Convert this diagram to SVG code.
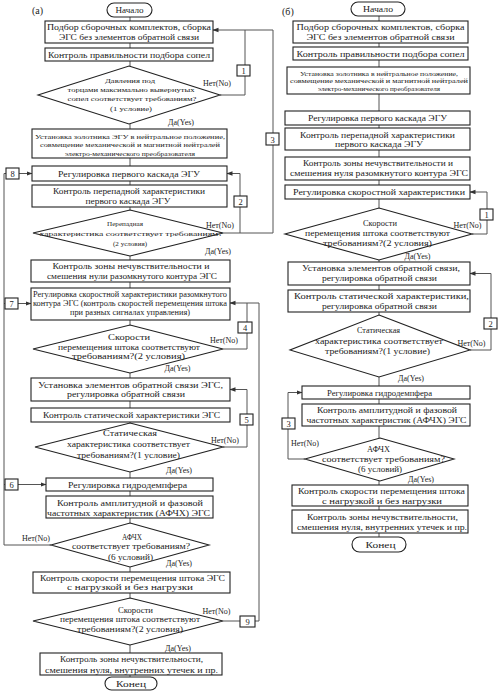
<svg xmlns="http://www.w3.org/2000/svg" width="501" height="700" viewBox="0 0 501 700">
<defs>
<marker id="ah" markerWidth="6" markerHeight="6" refX="5.5" refY="3" orient="auto" markerUnits="userSpaceOnUse">
<path d="M0,0.8 L6,3 L0,5.2 z" fill="#333"/>
</marker>
<style>
.b{fill:#fff;stroke:#222;stroke-width:1.1}
.c{fill:none;stroke:#555;stroke-width:1}
.a{fill:none;stroke:#555;stroke-width:1;marker-end:url(#ah)}
text{font-family:"Liberation Serif","Times New Roman",serif;fill:#222;text-anchor:middle;font-size:8.5px}
.s7{font-size:7px}
.s75{font-size:7.5px}
.s8{font-size:8px}
.s9{font-size:9px}
.s10{font-size:10px}
.lb{font-size:10px}
.st{text-anchor:start}
</style>
</defs>
<rect width="501" height="700" fill="#fff"/>

<g id="connectors">
<path class="c" d="M130,17V21M130,43V48M130,61V66M130,124V129M130,158V166M130,181V185M130,207V210M130,256V260M130,282V288M130,320V325M130,373V378M130,401V408M130,422V423M130,472V478M130,491V496M130,518V523M130,567V572M130,593V598M130,645V653M130,675V677"/>
<path class="c" d="M220,95H245V30"/>
<path class="a" d="M273,233V30H213"/>
<path class="c" d="M223,233H273"/>
<path class="a" d="M240,233V173.5H227"/>
<path class="a" d="M223,349H247V303H230"/>
<path class="c" d="M223,621H259V303H247"/>
<path class="a" d="M223,447H247V389.5H230"/>
<path class="a" d="M51,545H4V173.5H32"/>
<path class="a" d="M4,303.5H31"/>
<path class="a" d="M4,484.5H46"/>
<path class="c" d="M379,16V21M379,43V47M379,60V67M379,94V111M379,125V128M379,150V157M379,180V185M379,199V208M379,260V262M379,285V290M379,312V315M379,377V386M379,399V404M379,426V438M379,481V485M379,506V510M379,533V537"/>
<path class="a" d="M472,234H487V192H470"/>
<path class="a" d="M470,350H491V273.5H470"/>
<path class="a" d="M305,459H288V392.5H302"/>
</g>

<g id="panel-labels">
<text class="lb st" x="32" y="14">(а)</text>
<text class="lb st" x="282" y="15">(б)</text>
</g>

<g id="a-start"><rect class="b" x="107" y="3" width="45" height="14" rx="7"/><text x="129.5" y="13.2" textLength="28" lengthAdjust="spacingAndGlyphs">Начало</text></g>
<g id="a-n1"><rect class="b" x="45" y="21" width="168" height="22"/><text x="129" y="29.8" textLength="164" lengthAdjust="spacingAndGlyphs">Подбор сборочных комплектов, сборка</text><text x="129" y="39.6" textLength="140" lengthAdjust="spacingAndGlyphs">ЭГС без элементов обратной связи</text></g>
<g id="a-n2"><rect class="b" x="45" y="48" width="168" height="13"/><text x="129" y="57.6" textLength="162" lengthAdjust="spacingAndGlyphs">Контроль правильности подбора сопел</text></g>
<g id="a-d1"><polygon class="b" points="129,66 220,95 129,124 38,95"/>
<text class="s7" x="130" y="82.5" textLength="50" lengthAdjust="spacingAndGlyphs">Давления под</text>
<text class="s7" x="131" y="91.5" textLength="127" lengthAdjust="spacingAndGlyphs">торцами максимально вывернутых</text>
<text class="s7" x="132" y="101.3" textLength="129" lengthAdjust="spacingAndGlyphs">сопел соответствует требованиям?</text>
<text class="s7" x="131" y="110.5" textLength="42" lengthAdjust="spacingAndGlyphs">(1 условие)</text></g>
<g id="a-n3"><rect class="b" x="32" y="129" width="195" height="29"/>
<text class="s7" x="130" y="138.5" textLength="190" lengthAdjust="spacingAndGlyphs">Установка золотника ЭГУ в нейтральное положение,</text>
<text class="s7" x="130" y="147" textLength="180" lengthAdjust="spacingAndGlyphs">совмещение механической и магнитной нейтралей</text>
<text class="s7" x="130" y="155.5" textLength="130" lengthAdjust="spacingAndGlyphs">электро-механического преобразователя</text></g>
<g id="a-n4"><rect class="b" x="32" y="166" width="195" height="15"/><text x="129" y="176.5" textLength="142" lengthAdjust="spacingAndGlyphs">Регулировка первого каскада ЭГУ</text></g>
<g id="a-n5"><rect class="b" x="32" y="185" width="195" height="22"/><text x="129" y="194" textLength="152" lengthAdjust="spacingAndGlyphs">Контроль перепадной характеристики</text><text x="128" y="203.5" textLength="85" lengthAdjust="spacingAndGlyphs">первого каскада ЭГУ</text></g>
<g id="a-d2"><polygon class="b" points="130,210 223,233 130,256 33,233"/>
<text class="s7" x="125" y="225.5" textLength="36" lengthAdjust="spacingAndGlyphs">Перепадная</text>
<text class="s7" x="131" y="235.5" textLength="183" lengthAdjust="spacingAndGlyphs">характеристика соответствует требованиям?</text>
<text class="s7" x="130" y="245.5" textLength="34" lengthAdjust="spacingAndGlyphs">(2 условия)</text></g>
<g id="a-n6"><rect class="b" x="31" y="260" width="199" height="22"/><text x="131" y="269" textLength="157" lengthAdjust="spacingAndGlyphs">Контроль зоны нечувствительности и</text><text x="132" y="278.5" textLength="170" lengthAdjust="spacingAndGlyphs">смешения нули разомкнутого контура ЭГС</text></g>
<g id="a-n7"><rect class="b" x="31" y="288" width="199" height="32"/>
<text class="s75" x="130" y="296.5" textLength="194" lengthAdjust="spacingAndGlyphs">Регулировка скоростной характеристики разомкнутого</text>
<text class="s75" x="130" y="305.5" textLength="194" lengthAdjust="spacingAndGlyphs">контура ЭГС (контроль скоростей перемещения штока</text>
<text class="s75" x="130" y="314.5" textLength="120" lengthAdjust="spacingAndGlyphs">при разных сигналах управления)</text></g>
<g id="a-d3"><polygon class="b" points="130,325 223,349 130,373 33,349"/>
<text class="s9" x="129" y="340" textLength="42" lengthAdjust="spacingAndGlyphs">Скорости</text>
<text class="s8" x="129" y="350" textLength="142" lengthAdjust="spacingAndGlyphs">перемещения штока соответствуют</text>
<text class="s8" x="128.5" y="359.3" textLength="113" lengthAdjust="spacingAndGlyphs">требованиям?(2 условия)</text></g>
<g id="a-n8"><rect class="b" x="31" y="378" width="199" height="23"/><text x="130.5" y="388" textLength="185" lengthAdjust="spacingAndGlyphs">Установка элементов обратной связи ЭГС,</text><text x="126" y="397" textLength="118" lengthAdjust="spacingAndGlyphs">регулировка обратной связи</text></g>
<g id="a-n9"><rect class="b" x="31" y="408" width="199" height="14"/><text x="131.5" y="418" textLength="177" lengthAdjust="spacingAndGlyphs">Контроль статической характеристики ЭГС</text></g>
<g id="a-d4"><polygon class="b" points="130,423 223,447 130,472 35,447"/>
<text x="130" y="436" textLength="54" lengthAdjust="spacingAndGlyphs">Статическая</text>
<text x="128.5" y="447" textLength="123" lengthAdjust="spacingAndGlyphs">характеристика соответствует</text>
<text x="128.5" y="458" textLength="103" lengthAdjust="spacingAndGlyphs">требованиям?(1 условие)</text></g>
<g id="a-n10"><rect class="b" x="46" y="478" width="167" height="13"/><text x="127.5" y="487.6" textLength="119" lengthAdjust="spacingAndGlyphs">Регулировка гидродемпфера</text></g>
<g id="a-n11"><rect class="b" x="46" y="496" width="167" height="22"/><text x="130" y="505.5" textLength="146" lengthAdjust="spacingAndGlyphs">Контроль амплитудной и фазовой</text><text x="128.5" y="515.5" textLength="163" lengthAdjust="spacingAndGlyphs">частотных характеристик (АФЧХ) ЭГС</text></g>
<g id="a-d5"><polygon class="b" points="130,523 209,545 130,567 51,545"/>
<text class="s75" x="132" y="539.5" textLength="20" lengthAdjust="spacingAndGlyphs">АФЧХ</text>
<text class="s75" x="131" y="549" textLength="118" lengthAdjust="spacingAndGlyphs">соответствует требованиям?</text>
<text class="s75" x="130.5" y="559.5" textLength="45" lengthAdjust="spacingAndGlyphs">(6 условий)</text></g>
<g id="a-n12"><rect class="b" x="33" y="572" width="197" height="21"/><text x="132.5" y="580.5" textLength="185" lengthAdjust="spacingAndGlyphs">Контроль скорости перемещения штока ЭГС</text><text x="130" y="590" textLength="126" lengthAdjust="spacingAndGlyphs">с нагрузкой и без нагрузки</text></g>
<g id="a-d6"><polygon class="b" points="130,598 223,621 130,645 33,621"/>
<text class="s9" x="135.5" y="613" textLength="35" lengthAdjust="spacingAndGlyphs">Скорости</text>
<text class="s8" x="130" y="622.3" textLength="140" lengthAdjust="spacingAndGlyphs">перемещения штока соответствуют</text>
<text class="s8" x="130" y="632" textLength="106" lengthAdjust="spacingAndGlyphs">требованиям?(2 условия)</text></g>
<g id="a-n13"><rect class="b" x="40" y="653" width="182" height="22"/><text x="131.5" y="662" textLength="143" lengthAdjust="spacingAndGlyphs">Контроль зоны нечувствительности,</text><text x="131.5" y="672.5" textLength="173" lengthAdjust="spacingAndGlyphs">смешения нуля, внутренних утечек и пр.</text></g>
<g id="a-end"><rect class="b" x="105" y="677" width="52" height="13" rx="6.5"/><text class="s9" x="131" y="686.8" textLength="30" lengthAdjust="spacingAndGlyphs">Конец</text></g>

<g id="a-labels">
<text class="s8" x="217" y="86">Нет(No)</text><text class="s8" x="181" y="125">Да(Yes)</text>
<text class="s8" x="220" y="228">Нет(No)</text><text class="s8" x="218" y="253.5">Да(Yes)</text>
<text class="s8" x="224" y="343">Нет(No)</text><text class="s8" x="177.5" y="371">Да(Yes)</text>
<text class="s8" x="225" y="443">Нет(No)</text><text class="s8" x="179" y="473">Да(Yes)</text>
<text class="s8" x="36" y="541">Нет(No)</text><text class="s8" x="179" y="566">Да(Yes)</text>
<text class="s8" x="216.5" y="614">Нет(No)</text><text class="s8" x="178" y="651">Да(Yes)</text>
</g>

<g id="a-tag1"><rect class="b" x="237" y="65" width="13" height="11"/><text x="243.5" y="74">1</text></g>
<g id="a-tag2"><rect class="b" x="234" y="196" width="13" height="11"/><text x="240.5" y="205">2</text></g>
<g id="a-tag3"><rect class="b" x="266" y="133" width="13" height="12"/><text x="272.5" y="142.5">3</text></g>
<g id="a-tag4"><rect class="b" x="238" y="322" width="14" height="11"/><text x="245" y="331">4</text></g>
<g id="a-tag5"><rect class="b" x="240" y="414" width="13" height="11"/><text x="246.5" y="423">5</text></g>
<g id="a-tag6"><rect class="b" x="5" y="479" width="13" height="11"/><text x="11.5" y="488">6</text></g>
<g id="a-tag7"><rect class="b" x="5" y="298" width="13" height="11"/><text x="11.5" y="307">7</text></g>
<g id="a-tag8"><rect class="b" x="6" y="168" width="13" height="11"/><text x="12.5" y="177">8</text></g>
<g id="a-tag9"><rect class="b" x="240" y="616" width="15" height="11"/><text x="247.5" y="625">9</text></g>

<g id="b-start"><rect class="b" x="351" y="2" width="54" height="14" rx="7"/><text x="378" y="12.2" textLength="30" lengthAdjust="spacingAndGlyphs">Начало</text></g>
<g id="b-n1"><rect class="b" x="293" y="21" width="175" height="22"/><text class="s8" x="380.5" y="30" textLength="168" lengthAdjust="spacingAndGlyphs">Подбор сборочных комплектов, сборка</text><text class="s8" x="380.5" y="39.5" textLength="148" lengthAdjust="spacingAndGlyphs">ЭГС без элементов обратной связи</text></g>
<g id="b-n2"><rect class="b" x="293" y="47" width="175" height="13"/><text class="s8" x="380.5" y="56.5" textLength="168" lengthAdjust="spacingAndGlyphs">Контроль правильности подбора сопел</text></g>
<g id="b-n3"><rect class="b" x="287" y="67" width="183" height="27"/>
<text class="s7" x="379" y="75.5" textLength="158" lengthAdjust="spacingAndGlyphs">Установка золотника в нейтральное положение,</text>
<text class="s7" x="379" y="83" textLength="178" lengthAdjust="spacingAndGlyphs">совмещение механической и магнитной нейтралей</text>
<text class="s7" x="379" y="90.5" textLength="122" lengthAdjust="spacingAndGlyphs">электро-механического преобразователя</text></g>
<g id="b-n4"><rect class="b" x="285" y="111" width="185" height="14"/><text x="377.5" y="121" textLength="139" lengthAdjust="spacingAndGlyphs">Регулировка первого каскада ЭГУ</text></g>
<g id="b-n5"><rect class="b" x="285" y="128" width="185" height="22"/><text x="377.5" y="137.5" textLength="155" lengthAdjust="spacingAndGlyphs">Контроль перепадной характеристики</text><text x="379" y="146.8" textLength="88" lengthAdjust="spacingAndGlyphs">первого каскада ЭГУ</text></g>
<g id="b-n6"><rect class="b" x="285" y="157" width="185" height="23"/><text x="378" y="166" textLength="150" lengthAdjust="spacingAndGlyphs">Контроль зоны нечувствительности и</text><text x="379" y="176" textLength="178" lengthAdjust="spacingAndGlyphs">смешения нуля разомкнутого контура ЭГС</text></g>
<g id="b-n7"><rect class="b" x="285" y="185" width="185" height="14"/><text x="379" y="195" textLength="172" lengthAdjust="spacingAndGlyphs">Регулировка скоростной  характеристики</text></g>
<g id="b-d1"><polygon class="b" points="379,208 472,234 379,260 285,234"/>
<text class="s9" x="380" y="226" textLength="34" lengthAdjust="spacingAndGlyphs">Скорости</text>
<text class="s8" x="377.5" y="236" textLength="145" lengthAdjust="spacingAndGlyphs">перемещения штока соответствуют</text>
<text class="s8" x="377.5" y="246" textLength="109" lengthAdjust="spacingAndGlyphs">требованиям?(2 условия)</text></g>
<g id="b-n8"><rect class="b" x="288" y="262" width="182" height="23"/><text x="381" y="271" textLength="158" lengthAdjust="spacingAndGlyphs">Установка элементов обратной связи,</text><text x="379.5" y="281" textLength="115" lengthAdjust="spacingAndGlyphs">регулировка обратной связи</text></g>
<g id="b-n9"><rect class="b" x="288" y="290" width="182" height="22"/><text x="381.5" y="298.5" textLength="175" lengthAdjust="spacingAndGlyphs">Контроль статической характеристики,</text><text x="379.5" y="308.5" textLength="115" lengthAdjust="spacingAndGlyphs">регулировка обратной связи</text></g>
<g id="b-d2"><polygon class="b" points="379,315 470,350 379,377 290,350"/>
<text x="378.5" y="333" textLength="43" lengthAdjust="spacingAndGlyphs">Статическая</text>
<text x="379" y="344" textLength="128" lengthAdjust="spacingAndGlyphs">характеристика соответствует</text>
<text x="377.5" y="354" textLength="105" lengthAdjust="spacingAndGlyphs">требованиям?(1 условие)</text></g>
<g id="b-n10"><rect class="b" x="302" y="386" width="168" height="13"/><text x="379.5" y="395.5" textLength="105" lengthAdjust="spacingAndGlyphs">Регулировка гидродемпфера</text></g>
<g id="b-n11"><rect class="b" x="302" y="404" width="168" height="22"/><text x="387" y="412.8" textLength="140" lengthAdjust="spacingAndGlyphs">Контроль амплитудной и фазовой</text><text x="386.5" y="422.5" textLength="160" lengthAdjust="spacingAndGlyphs">частотных характеристик (АФЧХ) ЭГС</text></g>
<g id="b-d3"><polygon class="b" points="380,438 454,459 380,481 305,459"/>
<text class="s8" x="378.5" y="451.5" textLength="23" lengthAdjust="spacingAndGlyphs">АФЧХ</text>
<text class="s75" x="383.5" y="461.5" textLength="123" lengthAdjust="spacingAndGlyphs">соответствует требованиям?</text>
<text class="s75" x="380" y="471.5" textLength="44" lengthAdjust="spacingAndGlyphs">(6 условий)</text></g>
<g id="b-n12"><rect class="b" x="292" y="485" width="176" height="21"/><text x="381.5" y="494" textLength="167" lengthAdjust="spacingAndGlyphs">Контроль скорости перемещения штока</text><text x="382" y="503.5" textLength="120" lengthAdjust="spacingAndGlyphs">с нагрузкой и без нагрузки</text></g>
<g id="b-n13"><rect class="b" x="292" y="510" width="176" height="23"/><text x="382.5" y="519.5" textLength="151" lengthAdjust="spacingAndGlyphs">Контроль зоны нечувствительности,</text><text x="382" y="529.5" textLength="170" lengthAdjust="spacingAndGlyphs">смешения нуля, внутренних утечек и пр.</text></g>
<g id="b-end"><rect class="b" x="352" y="537" width="54" height="15" rx="7.5"/><text class="s9" x="380.5" y="547.8" textLength="30" lengthAdjust="spacingAndGlyphs">Конец</text></g>

<g id="b-labels">
<text class="s8" x="467.5" y="228">Нет(No)</text><text class="s8" x="417.5" y="258.5">Да(Yes)</text>
<text class="s8" x="471.5" y="346">Нет(No)</text><text class="s8" x="411" y="381">Да(Yes)</text>
<text class="s8" x="305" y="446">Нет(No)</text><text class="s8" x="421" y="482">Да(Yes)</text>
</g>
<g id="b-tag1"><rect class="b" x="480" y="209" width="13" height="11"/><text x="486.5" y="218">1</text></g>
<g id="b-tag2"><rect class="b" x="484" y="318" width="13" height="11"/><text x="490.5" y="327">2</text></g>
<g id="b-tag3"><rect class="b" x="282" y="418" width="13" height="11"/><text x="288.5" y="427">3</text></g>
</svg>
